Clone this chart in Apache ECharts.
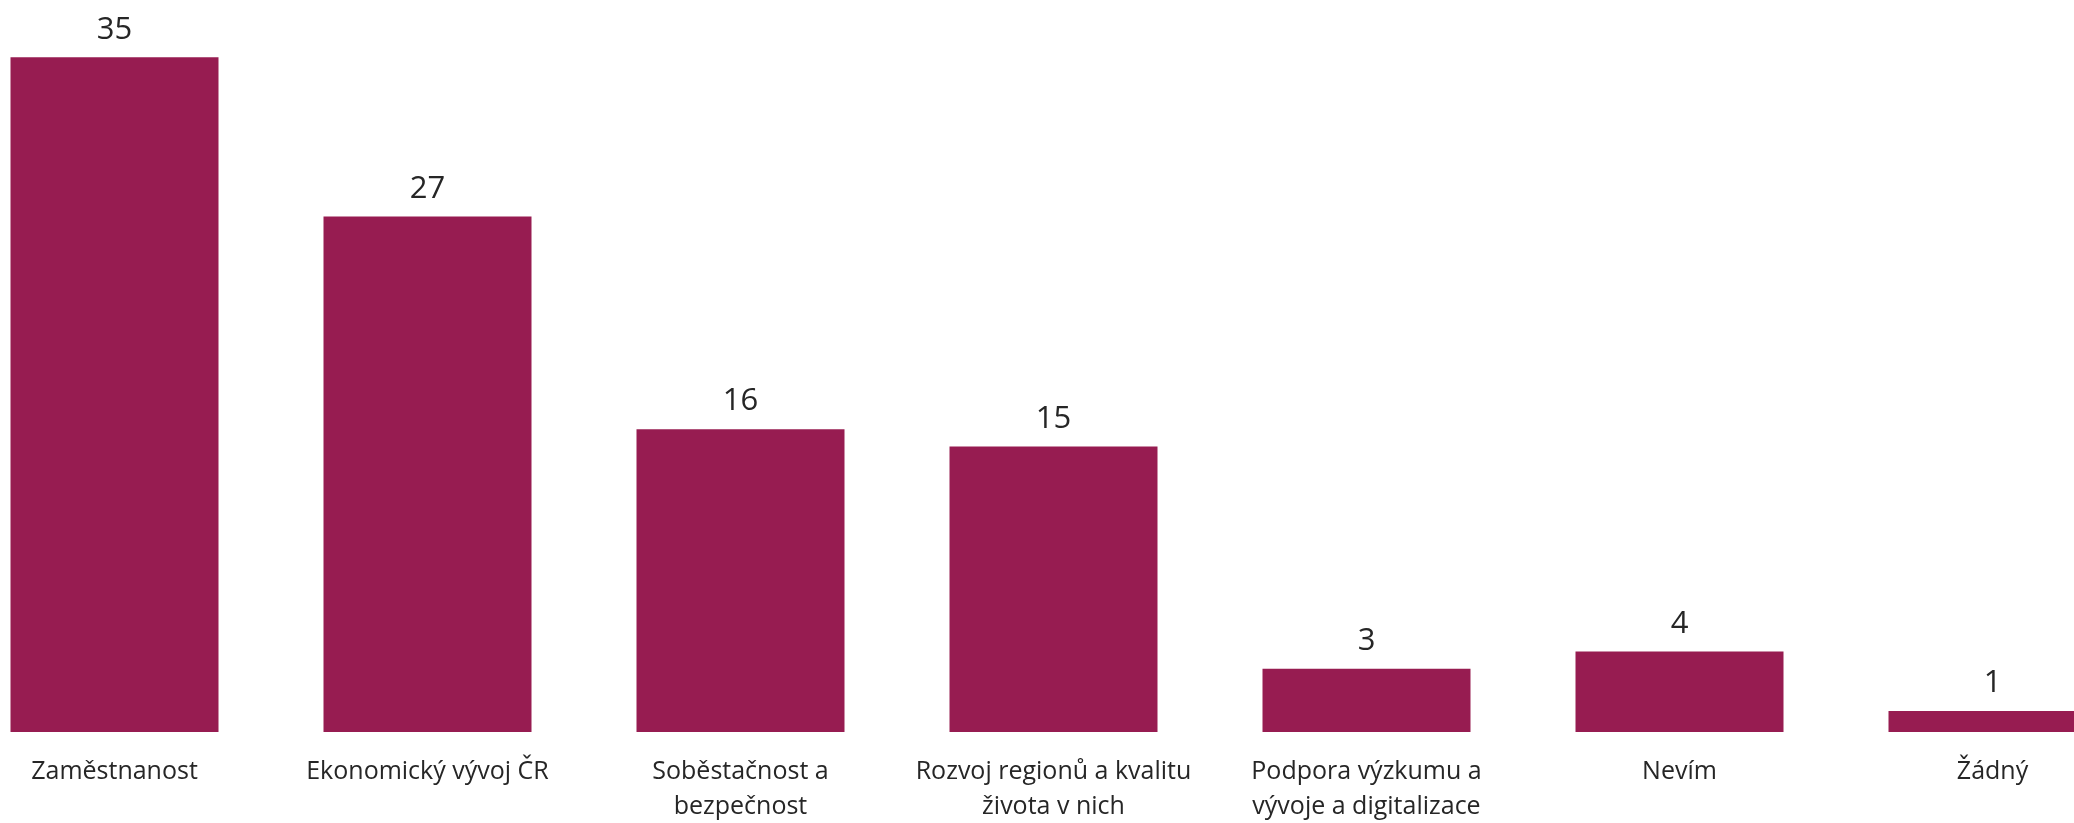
<!DOCTYPE html>
<html>
<head>
<meta charset="utf-8">
<script src="https://cdn.jsdelivr.net/npm/echarts@6/dist/echarts.min.js"></script>
<style>
html,body{margin:0;padding:0;background:#fff;}
#chart{width:2074px;height:823px;}
</style>
</head>
<body>
<div id="chart"></div>
<script>
const categories = [
  "Zaměstnanost",
  "Ekonomický vývoj ČR",
  "Soběstačnost a\nbezpečnost",
  "Rozvoj regionů a kvalitu\nživota v nich",
  "Podpora výzkumu a\nvývoje a digitalizace",
  "Nevím",
  "Žádný"
];
const values = [35.2, 26.9, 15.8, 14.9, 3.3, 4.2, 1.1];

const chart = echarts.init(document.getElementById('chart'), null, {renderer: 'canvas'});
chart.setOption({
  animation: false,
  backgroundColor: '#ffffff',
  grid: {left: -42, width: 2191, top: 42, bottom: 91, containLabel: false, outerBoundsMode: 'none'},
  xAxis: {
    type: 'category',
    data: categories,
    axisLine: {show: false},
    axisTick: {show: false},
    axisLabel: {
      interval: 0,
      margin: 22,
      color: '#262626',
      fontFamily: 'Open Sans',
      fontSize: 25,
      lineHeight: 35
    }
  },
  yAxis: {
    type: 'value',
    min: 0,
    max: 36,
    show: false,
    splitLine: {show: false}
  },
  series: [{
    type: 'bar',
    data: values,
    barWidth: 208,
    itemStyle: {color: '#971C51'},
    label: {
      show: true,
      position: 'top',
      distance: 12,
      color: '#262626',
      fontFamily: 'Open Sans',
      fontSize: 31,
      formatter: p => Math.round(p.value)
    }
  }]
});
</script>
</body>
</html>
